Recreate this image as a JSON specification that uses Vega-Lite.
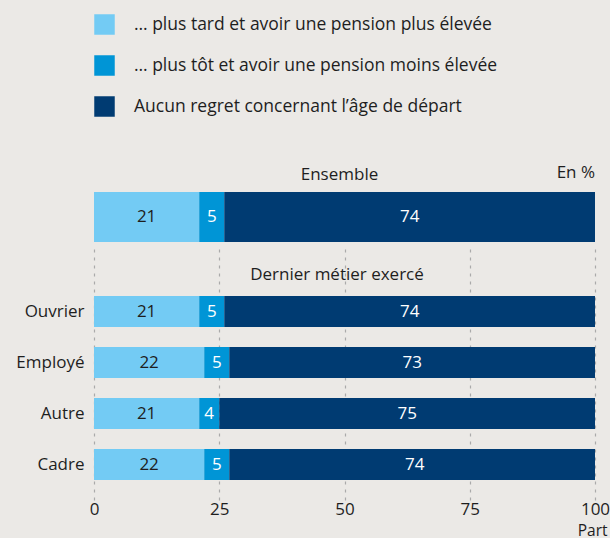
{
  "$schema": "https://vega.github.io/schema/vega-lite/v6.json",
  "background": "#ebe9e6",
  "padding": {"left": 15, "top": 14, "right": 0, "bottom": 0},
  "datasets": {
    "rows": [
      {"groupe": "Ensemble", "cat": "Ensemble", "reponse": "… plus tard et avoir une pension plus élevée", "ordre": 1, "value": 21},
      {"groupe": "Ensemble", "cat": "Ensemble", "reponse": "… plus tôt et avoir une pension moins élevée", "ordre": 2, "value": 5},
      {"groupe": "Ensemble", "cat": "Ensemble", "reponse": "Aucun regret concernant l’âge de départ", "ordre": 3, "value": 74},
      {"groupe": "Métier", "cat": "Ouvrier", "reponse": "… plus tard et avoir une pension plus élevée", "ordre": 1, "value": 21},
      {"groupe": "Métier", "cat": "Ouvrier", "reponse": "… plus tôt et avoir une pension moins élevée", "ordre": 2, "value": 5},
      {"groupe": "Métier", "cat": "Ouvrier", "reponse": "Aucun regret concernant l’âge de départ", "ordre": 3, "value": 74},
      {"groupe": "Métier", "cat": "Employé", "reponse": "… plus tard et avoir une pension plus élevée", "ordre": 1, "value": 22},
      {"groupe": "Métier", "cat": "Employé", "reponse": "… plus tôt et avoir une pension moins élevée", "ordre": 2, "value": 5},
      {"groupe": "Métier", "cat": "Employé", "reponse": "Aucun regret concernant l’âge de départ", "ordre": 3, "value": 73},
      {"groupe": "Métier", "cat": "Autre", "reponse": "… plus tard et avoir une pension plus élevée", "ordre": 1, "value": 21},
      {"groupe": "Métier", "cat": "Autre", "reponse": "… plus tôt et avoir une pension moins élevée", "ordre": 2, "value": 4},
      {"groupe": "Métier", "cat": "Autre", "reponse": "Aucun regret concernant l’âge de départ", "ordre": 3, "value": 75},
      {"groupe": "Métier", "cat": "Cadre", "reponse": "… plus tard et avoir une pension plus élevée", "ordre": 1, "value": 22},
      {"groupe": "Métier", "cat": "Cadre", "reponse": "… plus tôt et avoir une pension moins élevée", "ordre": 2, "value": 5},
      {"groupe": "Métier", "cat": "Cadre", "reponse": "Aucun regret concernant l’âge de départ", "ordre": 3, "value": 74}
    ],
    "entete": [
      {"cat": "Dernier métier exercé", "label": "Dernier métier exercé"}
    ]
  },
  "spacing": 3,
  "vconcat": [
    {
      "width": 501,
      "height": 50,
      "title": {"text": "En %", "anchor": "end", "frame": "group", "baseline": "alphabetic", "offset": -30, "fontSize": 17, "fontWeight": "normal", "color": "#1e1e1e", "font": "Open Sans"},
      "data": {"name": "rows"},
      "transform": [
        {"filter": "datum.groupe == 'Ensemble'"},
        {"stack": "value", "groupby": ["cat"], "sort": [{"field": "ordre"}], "as": ["x0", "x1"]},
        {"calculate": "(datum.x0 + datum.x1) / 2", "as": "xm"}
      ],
      "layer": [
        {
          "mark": {"type": "bar", "clip": true},
          "encoding": {
            "y": {"field": "cat", "type": "nominal", "scale": {"paddingInner": 0, "paddingOuter": 0}, "axis": null},
            "x": {"field": "x0", "type": "quantitative", "scale": {"domain": [0, 100], "nice": false},
              "axis": {"orient": "top", "labels": false, "ticks": false, "domain": false, "grid": false, "title": "Ensemble", "titleX": 245, "titleY": -13, "titleBaseline": "alphabetic", "titleFontSize": 17, "titleFontWeight": "normal", "titleColor": "#1e1e1e", "titleFont": "Open Sans"}},
            "x2": {"field": "x1"},
            "color": {"field": "reponse", "type": "nominal",
              "scale": {"domain": ["… plus tard et avoir une pension plus élevée", "… plus tôt et avoir une pension moins élevée", "Aucun regret concernant l’âge de départ"], "range": ["#73cbf4", "#0095d6", "#003b72"]},
              "legend": {"orient": "none", "legendX": 0, "legendY": -178, "title": null, "symbolType": "square", "symbolSize": 420, "symbolStrokeWidth": 0, "symbolOpacity": 1, "labelFontSize": 17.5, "labelFont": "Open Sans", "labelColor": "#1e1e1e", "labelOffset": 19, "rowPadding": 20, "labelLimit": 500}}
          }
        },
        {
          "mark": {"type": "text", "fontSize": 17, "font": "Open Sans"},
          "encoding": {
            "y": {"field": "cat", "type": "nominal"},
            "x": {"field": "xm", "type": "quantitative"},
            "text": {"field": "value", "type": "quantitative"},
            "color": {"condition": {"test": "datum.ordre == 1", "value": "#1e1e1e"}, "value": "#ffffff"}
          }
        }
      ]
    },
    {
      "width": 501,
      "height": 255,
      "layer": [
        {
          "data": {"name": "rows"},
          "transform": [
            {"filter": "datum.groupe == 'Métier'"},
            {"stack": "value", "groupby": ["cat"], "sort": [{"field": "ordre"}], "as": ["x0", "x1"]},
            {"calculate": "(datum.x0 + datum.x1) / 2", "as": "xm"}
          ],
          "layer": [
            {
              "mark": {"type": "bar", "clip": true},
              "encoding": {
                "y": {"field": "cat", "type": "nominal"},
                "x": {"field": "x0", "type": "quantitative"},
                "x2": {"field": "x1"},
                "color": {"field": "reponse", "type": "nominal",
                  "legend": {"orient": "none", "legendX": 0, "legendY": -178, "title": null, "symbolType": "square", "symbolSize": 420, "symbolStrokeWidth": 0, "symbolOpacity": 1, "labelFontSize": 17.5, "labelFont": "Open Sans", "labelColor": "#1e1e1e", "labelOffset": 19, "rowPadding": 20, "labelLimit": 500}}
              }
            },
            {
              "mark": {"type": "text", "fontSize": 17, "font": "Open Sans"},
              "encoding": {
                "y": {"field": "cat", "type": "nominal"},
                "x": {"field": "xm", "type": "quantitative"},
                "text": {"field": "value", "type": "quantitative"},
                "color": {"condition": {"test": "datum.ordre == 1", "value": "#1e1e1e"}, "value": "#ffffff"}
              }
            }
          ]
        },
        {
          "data": {"name": "entete"},
          "mark": {"type": "text", "fontSize": 17, "font": "Open Sans", "color": "#1e1e1e"},
          "encoding": {
            "y": {"field": "cat", "type": "nominal", "bandPosition": 0.96},
            "x": {"datum": 48.5, "type": "quantitative"},
            "text": {"field": "label"}
          }
        }
      ],
      "encoding": {
        "y": {"field": "cat", "type": "nominal",
          "scale": {"domain": ["Dernier métier exercé", "Ouvrier", "Employé", "Autre", "Cadre"], "paddingInner": 0.392, "paddingOuter": 0.196, "align": 0},
          "axis": {"title": null, "ticks": false, "domain": false, "labelFontSize": 17, "labelFont": "Open Sans", "labelColor": "#1e1e1e", "labelPadding": 10, "labelExpr": "datum.value == 'Dernier métier exercé' ? '' : datum.value"}},
        "x": {"type": "quantitative",
          "scale": {"domain": [0, 100], "nice": false},
          "axis": {"orient": "bottom", "values": [0, 25, 50, 75, 100], "ticks": false, "domain": false, "grid": true, "gridDash": [3, 5], "gridColor": "#aaaaaa", "gridWidth": 1.2, "labelFontSize": 17, "labelFont": "Open Sans", "labelColor": "#1e1e1e", "labelPadding": 1, "title": "Part", "titleX": 513, "titleY": 35, "titleAlign": "right", "titleBaseline": "alphabetic", "titleFontSize": 15.5, "titleFontWeight": "normal", "titleColor": "#1e1e1e", "titleFont": "Open Sans"}}
      }
    }
  ],
  "config": {
    "view": {"stroke": null},
    "axis": {"labelFlush": false}
  }
}
